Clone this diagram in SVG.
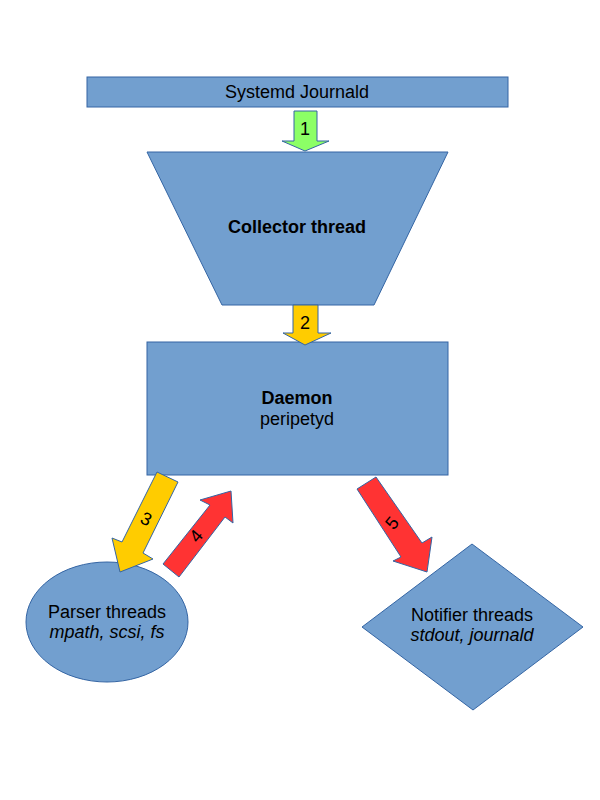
<svg xmlns="http://www.w3.org/2000/svg" width="600" height="800" viewBox="0 0 600 800">
<style>
.node{fill:#729fcf;stroke:#3465a4;stroke-width:1}
.arr{stroke:#3465a4;stroke-width:1;stroke-linejoin:miter}
text{font-family:"Liberation Sans",Arial,sans-serif;font-size:18px;fill:#000;text-anchor:middle}
.b{font-weight:bold}
.i{font-style:italic}
</style>
<rect width="600" height="800" fill="#ffffff"/>
<g id="journald">
<rect class="node" x="87" y="77" width="421" height="30"/>
<text x="297" y="98">Systemd Journald</text>
</g>
<g id="collector">
<polygon class="node" points="147,152 448,152 374,305 222,305"/>
<text class="b" x="297" y="233">Collector thread</text>
</g>
<g id="daemon">
<rect class="node" x="147" y="342" width="301" height="133"/>
<text x="297" y="404"><tspan class="b">Daemon</tspan><tspan x="297" dy="21">peripetyd</tspan></text>
</g>
<g id="parser">
<ellipse class="node" cx="107" cy="622" rx="81" ry="60"/>
<text x="107" y="618">Parser threads<tspan class="i" x="107" dy="20">mpath, scsi, fs</tspan></text>
</g>
<g id="notifier">
<polygon class="node" points="472,544 583,627 473,710 362,627"/>
<text x="472" y="621">Notifier threads<tspan class="i" x="472" dy="20">stdout, journald</tspan></text>
</g>
<g id="connectors">
<g id="c1">
<polygon class="arr" fill="#8cff66" points="294,111 317,111 317,141 329,141 305,151 282,141 294,141"/>
<text x="305" y="135">1</text>
</g>
<g id="c2">
<polygon class="arr" fill="#ffcc00" points="293,305 318,305 318,333 331,333 305,345 283,333 293,333"/>
<text x="305" y="329">2</text>
</g>
<g id="c3">
<polygon class="arr" fill="#ffcc00" points="157,472 178,482 143,553 153,559 120,572 112,538 122,542"/>
<text transform="translate(146,519) rotate(26)" x="0" y="6">3</text>
</g>
<g id="c4">
<polygon class="arr" fill="#ff3333" points="163,564 179,577 225,517 233,523 231,491 200,500 210,505"/>
<text transform="translate(196,536) rotate(-50)" x="0" y="6">4</text>
</g>
<g id="c5">
<polygon class="arr" fill="#ff3333" points="357,489 376,477 422,543 432,537 427,572 393,561 401,557"/>
<text transform="translate(392,523) rotate(-50)" x="0" y="6">5</text>
</g>
</g>
</svg>
